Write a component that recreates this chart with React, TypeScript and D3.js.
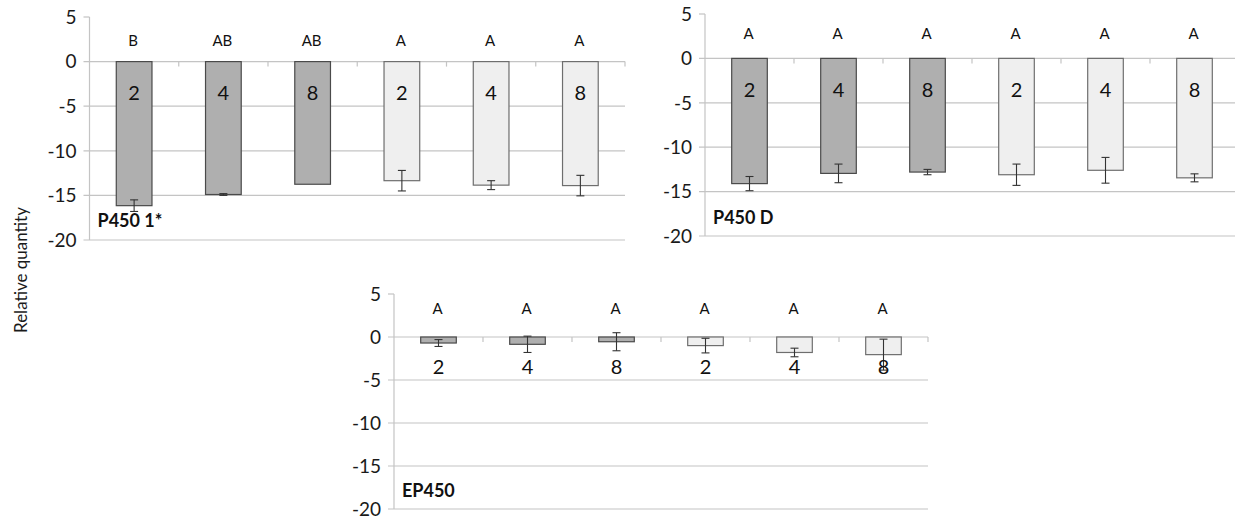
import { useRef, useEffect } from 'react'
import * as d3 from 'd3'

// categories (days) and shading of each bar
const doses = ['2', '4', '8', '2', '4', '8']
const shades = ['dark', 'dark', 'dark', 'light', 'light', 'light']
const yTicks = [5, 0, -5, -10, -15, -20]

// P450 1*
const p4501Values = [-16.15, -14.9, -13.75, -13.35, -13.85, -13.9]
const p4501Errors = [0.65, 0.1, 0, 1.15, 0.5, 1.15]
const p4501Letters = ['B', 'AB', 'AB', 'A', 'A', 'A']

// P450 D
const p450dValues = [-14.1, -12.95, -12.8, -13.1, -12.6, -13.45]
const p450dErrors = [0.8, 1.05, 0.3, 1.2, 1.45, 0.45]
const p450dLetters = ['A', 'A', 'A', 'A', 'A', 'A']

// EP450
const ep450Values = [-0.7, -0.85, -0.55, -1.0, -1.8, -2.05]
const ep450Errors = [0.4, 0.95, 1.05, 0.85, 0.5, 1.8]
const ep450Letters = ['A', 'A', 'A', 'A', 'A', 'A']

const FONT = 'Lato, "Open Sans", sans-serif'
const GRID = '#c4c4c4'
const FILL = { dark: '#afafaf', light: '#efefef' }
const STROKE = { dark: '#4a4a4a', light: '#6e6e6e' }

const panels = [
  { title: 'P450 1*', values: p4501Values, errors: p4501Errors, letters: p4501Letters,
    box: { left: 89.5, right: 625, top: 17, bottom: 240 }, letterDy: -21, numDy: 31, titleY: 227 },
  { title: 'P450 D', values: p450dValues, errors: p450dErrors, letters: p450dLetters,
    box: { left: 705, right: 1239, top: 14, bottom: 236 }, letterDy: -25, numDy: 31, titleY: 224 },
  { title: 'EP450', values: ep450Values, errors: ep450Errors, letters: ep450Letters,
    box: { left: 394, right: 928, top: 294, bottom: 509 }, letterDy: -28, numDy: 30, titleY: 497 },
]

export default function App() {
  const svgRef = useRef(null)

  useEffect(() => {
    const svg = d3.select(svgRef.current)
    svg.selectAll('*').remove()

    panels.forEach((p) => {
      const { left, right, top, bottom } = p.box
      const g = svg.append('g')

      const y = d3.scaleLinear().domain([-20, 5]).range([bottom, top])
      const x = d3
        .scaleBand()
        .domain(d3.range(doses.length).map(String))
        .range([left, right])
        .paddingInner(0.6)
        .paddingOuter(0.3)
      const step = x.step()

      // gridlines (-5 .. -20) with small outer ticks
      yTicks.filter((t) => t < 0).forEach((t) => {
        g.append('line')
          .attr('x1', left - 6).attr('x2', right)
          .attr('y1', y(t)).attr('y2', y(t))
          .attr('stroke', GRID).attr('stroke-width', 1.2)
      })

      // value axis
      g.append('line')
        .attr('x1', left).attr('x2', left)
        .attr('y1', y(5)).attr('y2', y(-20))
        .attr('stroke', GRID).attr('stroke-width', 1.2)
      g.append('line')
        .attr('x1', left - 6).attr('x2', left)
        .attr('y1', y(5)).attr('y2', y(5))
        .attr('stroke', GRID).attr('stroke-width', 1.2)

      // category axis at 0
      g.append('line')
        .attr('x1', left - 6).attr('x2', right)
        .attr('y1', y(0)).attr('y2', y(0))
        .attr('stroke', GRID).attr('stroke-width', 1.2)
      d3.range(1, doses.length + 1).forEach((i) => {
        g.append('line')
          .attr('x1', left + i * step).attr('x2', left + i * step)
          .attr('y1', y(0)).attr('y2', y(0) + 5)
          .attr('stroke', GRID).attr('stroke-width', 1.2)
      })

      // tick labels
      yTicks.forEach((t) => {
        g.append('text')
          .attr('x', left - 13).attr('y', y(t))
          .attr('dy', '0.36em')
          .attr('text-anchor', 'end')
          .attr('font-family', FONT).attr('font-size', 19)
          .attr('fill', '#1a1a1a')
          .text(t)
      })

      // bars
      p.values.forEach((v, i) => {
        const s = shades[i]
        const bx = x(String(i))
        const cx = bx + x.bandwidth() / 2
        g.append('rect')
          .attr('x', bx).attr('y', y(0))
          .attr('width', x.bandwidth())
          .attr('height', y(v) - y(0))
          .attr('fill', FILL[s]).attr('stroke', STROKE[s]).attr('stroke-width', 1.2)

        // error bars
        const e = p.errors[i]
        if (e > 0.05) {
          g.append('line')
            .attr('x1', cx).attr('x2', cx)
            .attr('y1', y(v + e)).attr('y2', y(v - e))
            .attr('stroke', '#333').attr('stroke-width', 1.1)
          ;[v + e, v - e].forEach((ev) => {
            g.append('line')
              .attr('x1', cx - 4).attr('x2', cx + 4)
              .attr('y1', y(ev)).attr('y2', y(ev))
              .attr('stroke', '#333').attr('stroke-width', 1.1)
          })
        }

        // significance letters
        g.append('text')
          .attr('x', cx - 1).attr('y', y(0) + p.letterDy)
          .attr('dy', '0.36em')
          .attr('text-anchor', 'middle')
          .attr('font-family', FONT).attr('font-size', 15)
          .attr('fill', '#111')
          .text(p.letters[i])

        // dose numbers
        g.append('text')
          .attr('x', cx).attr('y', y(0) + p.numDy)
          .attr('dy', '0.36em')
          .attr('text-anchor', 'middle')
          .attr('font-family', FONT).attr('font-size', 20)
          .attr('fill', '#111')
          .text(doses[i])
      })

      // panel title
      g.append('text')
        .attr('x', left + 8).attr('y', p.titleY)
        .attr('font-family', FONT).attr('font-size', 18).attr('font-weight', 'bold')
        .attr('fill', '#111')
        .text(p.title)
    })

    // y title
    svg.append('text')
      .attr('transform', 'translate(27,270) rotate(-90)')
      .attr('text-anchor', 'middle')
      .attr('font-family', FONT).attr('font-size', 17)
      .attr('fill', '#1a1a1a')
      .text('Relative quantity')
  }, [])

  return (
    <svg
      ref={svgRef}
      width={1235}
      height={519}
      style={{ position: 'absolute', left: 0, top: 0, background: '#fff' }}
    />
  )
}
